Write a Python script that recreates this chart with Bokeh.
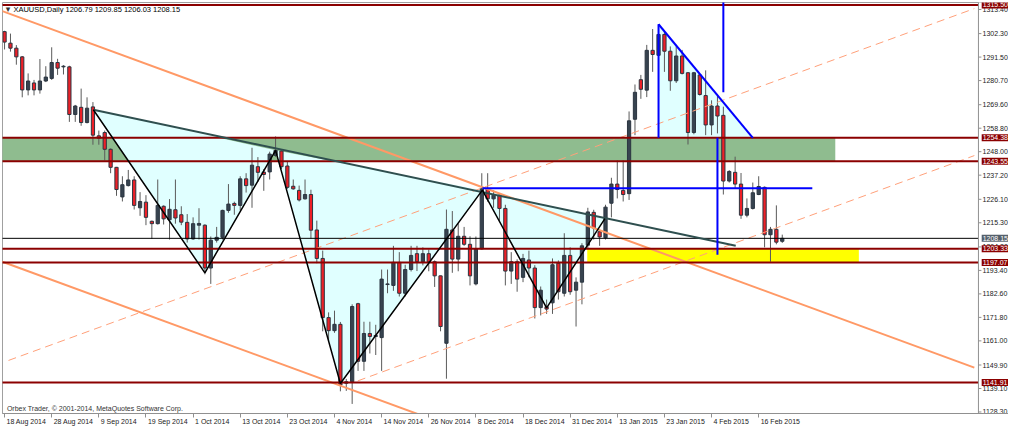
import pandas as pd
from bokeh.plotting import figure
from bokeh.models import Range1d, FixedTicker, Label, ColumnDataSource
from bokeh.core.properties import value
from bokeh.embed import file_html
from bokeh.resources import INLINE

# ---------------- data ----------------
title_text = "XAUUSD,Daily  1206.79 1209.85 1206.03 1208.15"
copyright_text = "Orbex Trader, \u00a9 2001-2014, MetaQuotes Software Corp."

opens = [1303.2, 1297.9, 1295.6, 1291.6, 1276.4, 1279.6, 1276.4, 1280.5, 1281.7, 1289.0,
         1287.0, 1287.0, 1265.1, 1268.4, 1261.4, 1268.6, 1255.3, 1256.8, 1249.1, 1240.8,
         1227.2, 1232.4, 1235.0, 1222.2, 1224.8, 1216.0, 1214.9, 1222.9, 1216.7, 1221.3,
         1219.0, 1215.5, 1207.9, 1214.2, 1214.2, 1194.5, 1207.3, 1208.6, 1221.0, 1224.2,
         1223.3, 1235.5, 1232.6, 1241.1, 1238.6, 1238.7, 1246.3, 1248.3, 1241.4, 1232.1,
         1230.2, 1226.3, 1228.3, 1212.0, 1198.9, 1171.7, 1165.7, 1168.6, 1141.5, 1142.2,
         1178.1, 1151.6, 1164.4, 1163.0, 1162.5, 1186.9, 1186.5, 1197.1, 1182.9, 1193.8,
         1201.1, 1197.4, 1201.1, 1197.4, 1190.9, 1159.9, 1212.0, 1198.6, 1209.1, 1205.4,
         1187.2, 1203.3, 1230.9, 1226.3, 1228.0, 1221.9, 1193.1, 1197.4, 1190.2, 1198.2,
         1194.5, 1176.3, 1176.7, 1178.5, 1196.7, 1182.9, 1200.3, 1184.3, 1188.0, 1205.0,
         1220.1, 1211.2, 1208.4, 1224.3, 1233.1, 1230.2, 1228.7, 1262.9, 1281.1, 1276.3,
         1294.6, 1292.3, 1301.9, 1294.2, 1280.6, 1292.0, 1284.3, 1256.8, 1283.3, 1273.8,
         1260.3, 1269.0, 1264.7, 1234.5, 1238.5, 1233.1, 1218.8, 1221.9, 1228.3, 1231.6,
         1209.8, 1212.3, 1206.79]
highs = [1303.6, 1302.3, 1297.0, 1292.0, 1284.0, 1281.0, 1290.6, 1287.3, 1296.0, 1290.7,
         1287.8, 1287.5, 1269.5, 1277.0, 1273.0, 1270.8, 1257.7, 1257.7, 1249.5, 1241.0,
         1236.7, 1239.6, 1236.7, 1229.4, 1228.0, 1216.3, 1235.2, 1223.3, 1226.2, 1235.2,
         1222.9, 1219.3, 1217.8, 1222.0, 1214.6, 1209.0, 1213.4, 1221.3, 1233.1, 1225.0,
         1236.7, 1238.1, 1249.8, 1245.5, 1240.0, 1248.0, 1255.0, 1248.6, 1243.3, 1235.2,
         1232.4, 1235.2, 1230.5, 1216.3, 1202.5, 1174.1, 1174.9, 1169.7, 1143.5, 1177.8,
         1178.5, 1169.8, 1169.8, 1168.4, 1193.8, 1193.8, 1204.7, 1201.8, 1196.0, 1204.7,
         1204.7, 1204.0, 1203.0, 1198.0, 1191.0, 1221.4, 1220.7, 1214.9, 1213.4, 1209.1,
         1209.0, 1238.1, 1238.1, 1230.2, 1228.3, 1223.6, 1201.8, 1198.5, 1201.0, 1202.5,
         1195.8, 1186.0, 1180.0, 1198.9, 1198.0, 1210.5, 1204.0, 1190.2, 1205.9, 1222.2,
         1221.3, 1212.0, 1223.6, 1236.0, 1244.0, 1244.0, 1266.5, 1278.9, 1283.3, 1297.1,
         1304.4, 1306.6, 1303.5, 1296.4, 1296.4, 1294.8, 1284.6, 1284.7, 1283.5, 1285.4,
         1271.6, 1273.8, 1268.7, 1239.5, 1245.7, 1238.2, 1226.5, 1233.8, 1236.7, 1232.0,
         1213.4, 1223.3, 1209.85]
lows = [1295.0, 1294.0, 1288.0, 1273.0, 1273.9, 1273.9, 1274.7, 1280.0, 1281.0, 1283.3,
        1283.5, 1261.7, 1261.7, 1259.9, 1261.0, 1251.2, 1251.2, 1244.0, 1238.1, 1227.7,
        1225.1, 1232.0, 1221.4, 1218.5, 1214.2, 1207.9, 1214.5, 1214.5, 1207.6, 1214.9,
        1214.2, 1206.2, 1207.5, 1207.6, 1191.6, 1187.2, 1206.2, 1207.6, 1219.9, 1219.0,
        1221.0, 1229.2, 1222.2, 1234.1, 1230.0, 1235.2, 1245.6, 1240.0, 1230.9, 1230.5,
        1225.1, 1226.0, 1208.0, 1196.7, 1165.4, 1161.0, 1164.7, 1137.8, 1138.0, 1132.0,
        1147.2, 1147.2, 1155.2, 1154.5, 1147.2, 1182.9, 1184.0, 1181.4, 1181.4, 1192.9,
        1193.1, 1195.7, 1193.0, 1185.8, 1165.4, 1143.6, 1192.3, 1193.0, 1204.7, 1186.5,
        1186.5, 1203.0, 1225.0, 1222.2, 1216.3, 1186.5, 1187.2, 1183.6, 1188.0, 1190.2,
        1171.3, 1172.7, 1173.4, 1173.4, 1180.0, 1181.4, 1182.2, 1167.6, 1177.8, 1203.2,
        1207.6, 1204.7, 1207.6, 1217.8, 1226.5, 1225.1, 1225.8, 1255.6, 1272.3, 1273.1,
        1284.7, 1274.5, 1284.7, 1276.0, 1279.6, 1283.5, 1251.3, 1256.0, 1273.8, 1255.6,
        1255.6, 1256.4, 1228.3, 1233.8, 1230.9, 1217.1, 1217.8, 1221.4, 1228.0, 1204.0,
        1197.4, 1205.4, 1206.03]
closes = [1298.4, 1295.6, 1291.6, 1276.4, 1280.5, 1276.4, 1280.5, 1282.3, 1289.0, 1286.4,
          1287.3, 1265.1, 1269.0, 1261.4, 1268.0, 1255.6, 1254.2, 1249.1, 1240.8, 1230.6,
          1232.8, 1235.0, 1223.3, 1225.1, 1217.8, 1214.9, 1223.3, 1217.1, 1221.5, 1217.5,
          1215.6, 1207.9, 1214.9, 1215.0, 1194.5, 1207.3, 1208.6, 1221.0, 1223.9, 1223.3,
          1235.5, 1232.4, 1241.8, 1238.5, 1237.5, 1246.9, 1248.6, 1241.1, 1231.6, 1230.9,
          1225.8, 1228.3, 1211.9, 1198.9, 1171.7, 1165.7, 1168.6, 1140.7, 1142.2, 1176.8,
          1151.6, 1164.4, 1163.0, 1163.5, 1189.4, 1187.2, 1197.1, 1182.9, 1193.8, 1200.3,
          1197.4, 1201.1, 1197.4, 1190.9, 1167.6, 1212.3, 1198.6, 1209.1, 1205.4, 1190.9,
          1203.3, 1230.9, 1226.3, 1228.0, 1221.9, 1193.1, 1197.4, 1189.4, 1198.9, 1194.5,
          1176.3, 1184.3, 1175.6, 1196.0, 1183.6, 1200.3, 1183.6, 1188.0, 1204.7, 1220.3,
          1212.9, 1208.8, 1222.5, 1233.1, 1230.6, 1228.3, 1262.2, 1275.3, 1276.7, 1294.6,
          1292.7, 1301.9, 1294.2, 1280.6, 1292.0, 1284.0, 1256.8, 1284.3, 1274.3, 1260.3,
          1269.0, 1264.4, 1234.5, 1238.9, 1233.1, 1218.8, 1221.9, 1229.1, 1232.0, 1209.8,
          1212.3, 1206.4, 1208.15]

xtick_index = [0, 8, 16, 24, 32, 40, 48, 56, 64, 72, 80, 88, 96, 104, 112, 120, 128]
xtick_labels = ["18 Aug 2014", "28 Aug 2014", "9 Sep 2014", "19 Sep 2014", "1 Oct 2014",
                "13 Oct 2014", "23 Oct 2014", "4 Nov 2014", "14 Nov 2014", "26 Nov 2014",
                "8 Dec 2014", "18 Dec 2014", "31 Dec 2014", "13 Jan 2015", "23 Jan 2015",
                "4 Feb 2015", "16 Feb 2015"]
ytick_values = [1128.30, 1139.10, 1149.90, 1161.00, 1171.80, 1182.60, 1193.40, 1204.20,
                1215.30, 1226.10, 1237.20, 1248.00, 1258.80, 1269.60, 1280.70, 1291.50,
                1302.30, 1313.40]

level_prices = [1315.50, 1254.38, 1243.55, 1203.33, 1197.07, 1141.91]
last_price = 1208.15

green_zone_y = [1243.55, 1254.38]
green_zone_x = [-1.0, 141.0]
yellow_zone_y = [1197.07, 1203.33]
yellow_zone_x = [98.9, 145.0]

zigzag_x = [15.07, 34.0, 46.0, 57.0, 81.1, 92.0, 101.9]
zigzag_y = [1267.3, 1192.3, 1248.6, 1141.4, 1230.3, 1176.2, 1217.2]
neck_x = [15.07, 124.1]
neck_y = [1267.3, 1204.7]
chan_upper_x = [-0.5, 164.6]
chan_upper_y = [1312.75, 1148.7]
chan_lower_x = [-0.5, 72.0]
chan_lower_y = [1197.5, 1125.5]
dash1_x = [0.67, 164.6]
dash1_y = [1152.0, 1313.8]
dash2_x = [59.95, 164.6]
dash2_y = [1142.6, 1246.2]
tri_x = [111.0, 111.0, 127.0]
tri_y = [1306.6, 1254.38, 1254.38]
proj_up_x = 122.0
proj_up_y = [1318.0, 1275.3]
proj_dn_x = 121.0
proj_dn_y = [1254.38, 1200.6]
breakout_y = 1231.2
breakout_x = [81.1, 137.1]

# ---------------- figure ----------------
X0, X1 = -0.35, 165.3        # chart area (bars)
SCALE_W = 5.1                # width of the price-scale strip, in bars (~30 px)
XE = X1 + SCALE_W
Y0, Y1 = 1127.6, 1316.6
FONT = "Liberation Sans"

p = figure(width=1008, height=431, output_backend="svg", toolbar_location=None,
           x_range=Range1d(X0, XE), y_range=Range1d(Y0, Y1),
           y_axis_location=None, min_border_left=2, min_border_top=2,
           min_border_right=0, min_border_bottom=0)
p.grid.visible = False
p.outline_line_color = "#A0A0A0"
p.background_fill_color = "white"

# zones and filled shapes
p.quad(left=green_zone_x[0], right=green_zone_x[1], bottom=green_zone_y[0], top=green_zone_y[1],
       fill_color="#8FBC8F", line_color=None)
p.quad(left=yellow_zone_x[0], right=yellow_zone_x[1], bottom=yellow_zone_y[0], top=yellow_zone_y[1],
       fill_color="#FFFF00", line_color=None)
p.patches(xs=[zigzag_x[0:3], zigzag_x[2:5], zigzag_x[4:7], tri_x],
          ys=[zigzag_y[0:3], zigzag_y[2:5], zigzag_y[4:7], tri_y],
          fill_color="#E0FFFF", line_color=None)

# candles
idx = list(range(len(opens)))
up = [c >= o for o, c in zip(opens, closes)]
src = ColumnDataSource(dict(
    x=idx, high=highs, low=lows,
    top=[max(o, c) for o, c in zip(opens, closes)],
    bottom=[min(o, c) for o, c in zip(opens, closes)],
    color=["#37434F" if u else "#EE2027" for u in up],
))
p.segment(x0="x", y0="low", x1="x", y1="high", source=src, line_color="#5A5A5A", line_width=1)
p.vbar(x="x", top="top", bottom="bottom", width=0.55, source=src,
       fill_color="color", line_color="#2B3540", line_width=1)

# lines
p.line(chan_upper_x, chan_upper_y, line_color="#FF9966", line_width=2)
p.line(chan_lower_x, chan_lower_y, line_color="#FF9966", line_width=2)
p.line(dash1_x, dash1_y, line_color="#FFA07A", line_width=1, line_dash="8 5")
p.line(dash2_x, dash2_y, line_color="#FFA07A", line_width=1, line_dash="8 5")

for lv in level_prices:
    p.line([X0 - 5, X1], [lv, lv], line_color="#8B0000", line_width=2)
p.line([X0 - 5, X1], [last_price, last_price], line_color="#000000", line_width=1)

p.line(neck_x, neck_y, line_color="#2F4F4F", line_width=2)
p.line(zigzag_x, zigzag_y, line_color="#000000", line_width=1.5)

p.line([tri_x[0], tri_x[1]], [tri_y[0], tri_y[1]], line_color="#0000FF", line_width=2)
p.line([tri_x[0], tri_x[2]], [tri_y[0], tri_y[2]], line_color="#0000FF", line_width=2)
p.line([proj_up_x, proj_up_x], proj_up_y, line_color="#0000FF", line_width=2)
p.line([proj_dn_x, proj_dn_x], proj_dn_y, line_color="#0000FF", line_width=2)
p.line(breakout_x, [breakout_y, breakout_y], line_color="#0000FF", line_width=2)

# ---- price scale strip on the right (MT4 style) ----
p.quad(left=X1, right=XE + 1, bottom=Y0 - 20, top=Y1 + 20, fill_color="white", line_color=None)
p.segment(x0=X1, y0=Y0 - 20, x1=X1, y1=Y1 + 20, line_color="#909090", line_width=1)
p.segment(x0=[X1] * len(ytick_values), y0=ytick_values,
          x1=[X1 + 0.5] * len(ytick_values), y1=ytick_values,
          line_color="#909090", line_width=1)
p.text(x=[X1 + 0.7] * len(ytick_values), y=ytick_values,
       text=[f"{v:.2f}" for v in ytick_values],
       text_font=value(FONT), text_font_size="7px", text_color="#222222",
       text_align="left", text_baseline="middle")

box_items = [(lv, "#8B0000") for lv in level_prices] + [(last_price, "#55606B")]
for lv, bg in box_items:
    p.add_layout(Label(x=X1 + 0.55, y=lv, text=f"{lv:.2f}", text_align="left",
                       text_baseline="middle", text_font=FONT, text_font_size="7px",
                       text_color="white", background_fill_color=bg, padding=1))

# bottom axis (dates)
xa = p.xaxis[0]
xa.ticker = FixedTicker(ticks=xtick_index)
xa.major_label_overrides = {i: "\u00a0" + s for i, s in zip(xtick_index, xtick_labels)}
xa.major_label_orientation = -0.0001   # tiny angle -> labels left-aligned at the tick
xa.major_label_text_font = FONT
xa.major_label_text_font_size = "7px"
xa.major_label_text_color = "#222222"
xa.major_label_standoff = 4
xa.major_tick_out = 4
xa.major_tick_in = 0
xa.minor_tick_line_color = None
xa.axis_line_color = "#909090"
xa.major_tick_line_color = "#909090"

# texts
p.add_layout(Label(x=0.2, y=Y1 - 3.0, text="\u25BE", text_baseline="middle",
                   text_font="DejaVu Sans", text_font_size="9px", text_color="#333333"))
p.add_layout(Label(x=1.5, y=Y1 - 3.0, text=title_text, text_baseline="middle",
                   text_font=FONT, text_font_size="7.5px", text_color="#000000"))
p.add_layout(Label(x=0.4, y=Y0 + 2.3, text=copyright_text, text_baseline="middle",
                   text_font=FONT, text_font_size="7px", text_color="#333333"))

open("out.html", "w").write(file_html(p, INLINE))
